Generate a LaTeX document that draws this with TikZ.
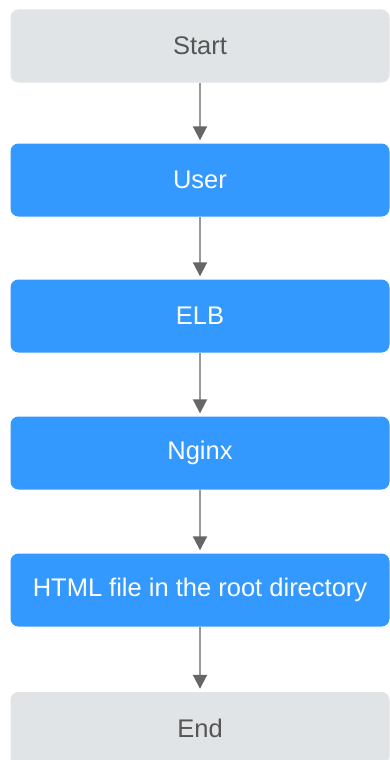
\documentclass[tikz,border=0pt]{standalone}
\usepackage{fontspec}
\setmainfont{Liberation Sans}
\usetikzlibrary{arrows.meta}
\definecolor{stepblue}{HTML}{3399FF}
\definecolor{termgray}{HTML}{E1E4E6}
\definecolor{termtext}{HTML}{555555}
\definecolor{edgegray}{HTML}{9A9A9A}
\definecolor{tipgray}{HTML}{666666}
\begin{document}
\begin{tikzpicture}[x=1pt,y=-1pt]
        \begin{scope}
            \tikzset{bnode/.style = {
                rectangle,
                rounded corners=8pt,
                fill=stepblue,
                text=white,
                font=\fontsize{25.5}{30}\selectfont,
                inner sep=0pt,
                minimum width=379pt,
                minimum height=73pt } }
            \tikzset{gnode/.style = {
                bnode,
                fill=termgray,
                text=termtext } }
            \tikzset{aedge/.style = {
                draw=edgegray,
                line width=2pt,
                shorten >=3pt,
                -{Triangle[width=14pt,length=14pt,color=tipgray,fill=tipgray]}} }
                \useasboundingbox (0,0) rectangle (390,760);
                \clip (0,0) rectangle (390,760);
                \node[gnode] (start) at (200,46) {Start};
                \foreach \n/\t/\y in {user/User/180, elb/ELB/316, nginx/Nginx/453, html/HTML file in the root directory/590}{
                    \node[bnode] (\n) at (200,\y) {\t};
                }
                \node[gnode] (end) at (200,728.5) {End};
                \path[aedge] (start) edge (user);
                \path[aedge] (user) edge (elb);
                \path[aedge] (elb) edge (nginx);
                \path[aedge] (nginx) edge (html);
                \path[aedge] (html) edge (end);
        \end{scope}
    \end{tikzpicture}
\end{document}
